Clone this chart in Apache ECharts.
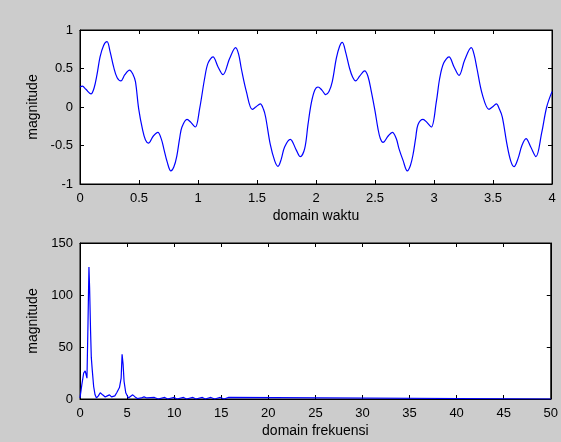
<!DOCTYPE html>
<html>
<head>
<meta charset="utf-8">
<script src="https://cdn.jsdelivr.net/npm/echarts@6/dist/echarts.min.js"></script>
<style>
html,body{margin:0;padding:0;background:#cccccc;}
#c{width:561px;height:442px;}
</style>
</head>
<body>
<div id="c"></div>
<script>
// ---- Time domain signal ----
const timeT = [0,0.02,0.05,0.093,0.12,0.144,0.17,0.2,0.229,0.255,0.285,0.315,0.347,0.38,0.42,0.45,0.47,0.497,0.531,0.555,0.58,0.62,0.66,0.69,0.71,0.74,0.77,0.795,0.82,0.845,0.864,0.907,0.94,0.977,1.014,1.056,1.085,1.127,1.17,1.212,1.268,1.319,1.345,1.367,1.41,1.46,1.49,1.528,1.555,1.573,1.613,1.65,1.678,1.705,1.734,1.782,1.833,1.867,1.904,1.932,1.96,1.99,2.017,
  2.05,2.082,2.11,2.138,2.172,2.2,2.223,2.25,2.285,2.31,2.336,2.37,2.412,2.44,2.469,2.5,2.525,2.545,2.568,2.61,2.647,2.68,2.703,2.737,2.774,2.8,2.822,2.845,2.864,2.907,2.94,2.977,3.02,3.048,3.082,3.127,3.17,3.212,3.26,3.316,3.34,3.364,3.41,3.466,3.495,3.528,3.555,3.579,3.619,3.65,3.678,3.712,3.745,3.78,3.82,3.864,3.912,3.955,4.0];
const timeY = [0.26,0.27,0.23,0.17,0.25,0.42,0.65,0.8,0.85,0.72,0.52,0.38,0.34,0.42,0.48,0.42,0.33,-0.02,-0.3,-0.43,-0.47,-0.38,-0.33,-0.42,-0.54,-0.72,-0.83,-0.78,-0.64,-0.4,-0.26,-0.16,-0.2,-0.26,-0.02,0.37,0.57,0.65,0.52,0.42,0.63,0.77,0.68,0.5,0.2,-0.03,0.0,0.04,-0.03,-0.13,-0.49,-0.7,-0.77,-0.68,-0.52,-0.42,-0.56,-0.645,-0.54,-0.23,0.05,0.22,0.26,
  0.22,0.16,0.2,0.33,0.63,0.79,0.84,0.72,0.5,0.39,0.34,0.4,0.47,0.4,0.2,-0.05,-0.28,-0.41,-0.46,-0.38,-0.33,-0.41,-0.54,-0.69,-0.83,-0.76,-0.62,-0.4,-0.23,-0.16,-0.2,-0.26,0.07,0.37,0.57,0.65,0.52,0.41,0.61,0.77,0.68,0.5,0.16,-0.03,0.0,0.04,-0.03,-0.13,-0.49,-0.7,-0.775,-0.67,-0.5,-0.41,-0.52,-0.645,-0.34,0.0,0.2];

// ---- Frequency domain magnitude ----
const freqF = [0,0.2,0.39,0.55,0.63,0.74,0.85,0.95,1.02,1.12,1.2,1.3,1.45,1.6,1.75,1.95,2.15,2.4,2.68,2.9,3.13,3.35,3.49,3.7,3.9,4.19,4.37,4.47,4.58,4.68,4.86,5.14,5.35,5.6,5.85,6.1,6.5,6.8,7.1,
  7.3,7.9,8.0,8.3,8.4,9.0,9.1,9.3,9.4,10.0,10.1,10.3,10.4,11.0,11.1,11.3,11.4,12.0,12.1,12.3,12.4,13.0,13.1,13.3,13.4,13.9,14.0,14.3,14.4,14.9,15.0,15.3,15.4,15.8,16.0,50];
const freqMag = [1,14,25,27,26,20,73,127,107,66,40,28,12,4,1,3,6,4,2,3,4,2,1.5,3,6,11,20,43,33,17,6,1,2,4,2,0.5,1,2,1,
  1.5,1.5,0,0,1.5,1.5,0,0,1.5,1.5,0,0,1.5,1.5,0,0,1.5,1.5,0,0,1.5,1.5,0,0,1.5,1.5,0,0,1.5,1.5,0,0,1.5,1.5,0,0];

// ---- Axis ticks ----
const timeTicks = {min:0, max:4, interval:0.5};
const timeMagTicks = {min:-1, max:1, interval:0.5};
const freqTicks = {min:0, max:50, interval:5};
const freqMagTicks = {min:0, max:150, interval:50};

const FONT = 'Liberation Sans, Arial, Helvetica, sans-serif';
const tickStyle = {show:true, inside:true, length:4, lineStyle:{color:'#000', width:1}};
const lineStyleAx = {show:true, onZero:false, lineStyle:{color:'#000', width:1}};
const lbl = (m)=>({show:true, color:'#000', fontSize:13, fontFamily:FONT, margin:m});

function xMain(grid, t, name, nameGap){
  return {type:'value', gridIndex:grid, position:'bottom', min:t.min, max:t.max, interval:t.interval,
    axisLine:lineStyleAx, axisTick:tickStyle, axisLabel:lbl(8), splitLine:{show:false},
    name:name, nameLocation:'middle', nameGap:nameGap,
    nameTextStyle:{color:'#000', fontSize:14, fontFamily:FONT}};
}
function xTop(grid, t){
  return {type:'value', gridIndex:grid, position:'top', min:t.min, max:t.max, interval:t.interval,
    axisLine:lineStyleAx, axisTick:tickStyle, axisLabel:{show:false}, splitLine:{show:false}};
}
function yMain(grid, t){
  return {type:'value', gridIndex:grid, position:'left', min:t.min, max:t.max, interval:t.interval,
    axisLine:lineStyleAx, axisTick:tickStyle, axisLabel:lbl(7), splitLine:{show:false},
    name:'magnitude', nameLocation:'middle', nameGap:36, nameRotate:90,
    nameTextStyle:{color:'#000', fontSize:14, fontFamily:FONT}};
}
function yRight(grid, t){
  return {type:'value', gridIndex:grid, position:'right', min:t.min, max:t.max, interval:t.interval,
    axisLine:lineStyleAx, axisTick:tickStyle, axisLabel:{show:false}, splitLine:{show:false}};
}

const timeData = timeT.map((t,i)=>[t, timeY[i]]);
const freqData = freqF.map((f,i)=>[f, freqMag[i]]);

const chart = echarts.init(document.getElementById('c'), null, {renderer:'canvas'});
chart.setOption({
  animation:false,
  backgroundColor:'#cccccc',
  grid:[
    {left:80, top:30, width:472, height:154, show:true, backgroundColor:'#ffffff', borderColor:'#000', borderWidth:1},
    {left:80, top:243, width:472, height:156, show:true, backgroundColor:'#ffffff', borderColor:'#000', borderWidth:1}
  ],
  xAxis:[
    xMain(0, timeTicks, 'domain waktu', 25),
    xMain(1, freqTicks, 'domain frekuensi', 25),
    xTop(0, timeTicks),
    xTop(1, freqTicks)
  ],
  yAxis:[
    yMain(0, timeMagTicks),
    yMain(1, freqMagTicks),
    yRight(0, timeMagTicks),
    yRight(1, freqMagTicks)
  ],
  series:[
    {type:'line', xAxisIndex:0, yAxisIndex:0, data:timeData, showSymbol:false, smooth:0.35,
     lineStyle:{color:'#0000ff', width:1.2}, clip:true},
    {type:'line', xAxisIndex:1, yAxisIndex:1, data:freqData, showSymbol:false, smooth:false,
     lineStyle:{color:'#0000ff', width:1.2}, clip:true}
  ]
});
</script>
</body>
</html>
